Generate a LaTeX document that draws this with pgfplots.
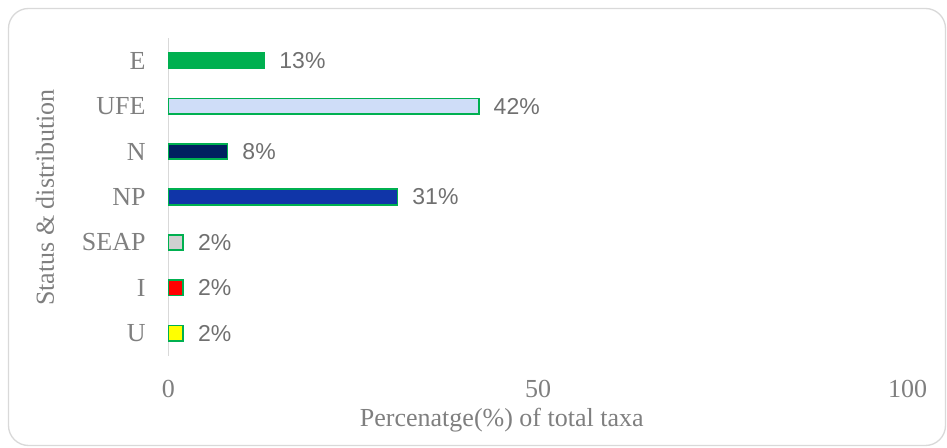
\documentclass[border=0pt]{standalone}
\usepackage{fontspec}
\setmainfont{Liberation Serif}
\newfontfamily\labelfont{Liberation Sans}
\usepackage{pgfplots}
\pgfplotsset{compat=1.18}
\definecolor{bargreen}{HTML}{00B050}
\definecolor{cUFE}{HTML}{CFDDF8}
\definecolor{cN}{HTML}{00205F}
\definecolor{cNP}{HTML}{1035A8}
\definecolor{cSEAP}{HTML}{D0D0D0}
\definecolor{cI}{HTML}{FF0000}
\definecolor{cU}{HTML}{FFFF00}
\definecolor{ticktext}{HTML}{7F7F7F}
\definecolor{datatext}{HTML}{707070}
\definecolor{linegray}{HTML}{D9D9D9}
\begin{document}
\begin{tikzpicture}
\useasboundingbox (0pt,0pt) rectangle (710.25pt,336pt);
\draw[linegray, line width=1pt, rounded corners=15pt] (6.375pt,1.875pt) rectangle (709.125pt,329.625pt);
\begin{axis}[
  at={(126.375pt,69pt)}, anchor=south west,
  scale only axis,
  width=554.25pt, height=238.5pt,
  xmin=0, xmax=100,
  ymin=-0.5, ymax=6.5,
  xtick={0,50,100},
  ytick={0,1,2,3,4,5,6},
  yticklabels={U,I,SEAP,NP,N,UFE,E},
  major tick length=0pt,
  axis lines*=left,
  x axis line style={draw=none},
  y axis line style={draw=linegray, line width=1pt, -},
  /pgf/number format/assume math mode=true,
  tick label style={font=\fontsize{19.5}{22}\selectfont, text=ticktext},
  yticklabel style={inner sep=0pt, xshift=-17pt},
  xticklabel style={inner sep=0pt, yshift=-18pt, anchor=north},
  xlabel={Percenatge(\%) of total taxa},
  ylabel={Status \& distribution},
  label style={font=\fontsize{19.5}{22}\selectfont, text=ticktext},
  xlabel style={at={(rel axis cs:0.451,-0.2013)}, anchor=center},
  ylabel style={at={(rel axis cs:-0.167,0.4984)}, anchor=center},
  xbar, bar width=11.5pt, bar shift=0pt,
  point meta=x,
  nodes near coords={\pgfmathprintnumber{\pgfplotspointmeta}\%},
  nodes near coords style={font=\labelfont\fontsize{17.25}{20}\selectfont, text=datatext, inner sep=0pt, anchor=west, xshift=10.5pt},
  every axis plot/.append style={draw=bargreen, line width=1.3pt},
  clip=false,
]
\addplot[fill=bargreen] coordinates {(13,6)};
\addplot[fill=cUFE] coordinates {(42,5)};
\addplot[fill=cN] coordinates {(8,4)};
\addplot[fill=cNP] coordinates {(31,3)};
\addplot[fill=cSEAP] coordinates {(2,2)};
\addplot[fill=cI] coordinates {(2,1)};
\addplot[fill=cU] coordinates {(2,0)};
\end{axis}
\end{tikzpicture}
\end{document}
